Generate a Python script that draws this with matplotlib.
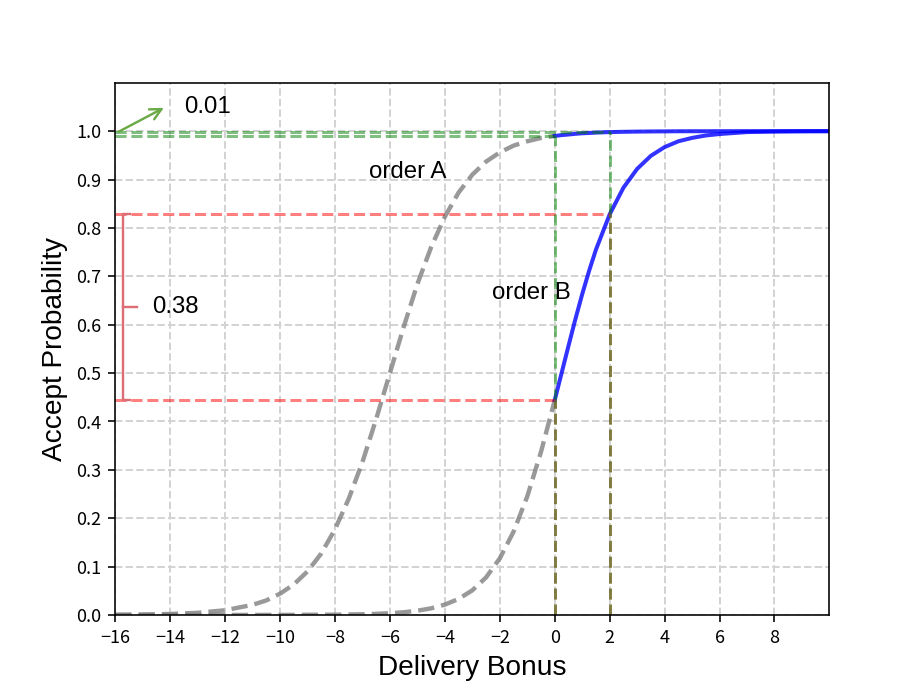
import matplotlib.pyplot as plt
import numpy as np

plt.rcParams['font.family'] = ['Liberation Sans', 'DejaVu Sans']

# bonus values where the curves were read
x_left = [-16, -15, -14, -13, -12, -11, -10.5, -10, -9.5, -9, -8.5, -8, -7.5, -7, -6.5, -6,
          -5.5, -5, -4.5, -4, -3.5, -3, -2.5, -2, -1.5, -1, -0.5, 0]
x_right = [0, 0.25, 0.5, 0.75, 1, 1.25, 1.5, 2, 2.5, 3, 3.5, 4, 4.5, 5, 5.5, 6, 7, 8, 9, 10]

# order A (gray for bonus <= 0, blue for bonus >= 0)
a_left = [0.0005, 0.001, 0.002, 0.0045, 0.0097, 0.021, 0.030, 0.044, 0.063, 0.090, 0.127, 0.177,
          0.240, 0.316, 0.405, 0.5, 0.595, 0.684, 0.760, 0.823, 0.873, 0.910, 0.937, 0.956,
          0.970, 0.979, 0.986, 0.990]
a_right = [0.990, 0.9918, 0.993, 0.9944, 0.9955, 0.9962, 0.997, 0.998, 0.9986, 0.999, 0.9993,
           0.9995, 0.9997, 0.9998, 0.9998, 0.9999, 1.0, 1.0, 1.0, 1.0]

# order B
b_left = [0.0, 0.0, 0.0, 0.0, 0.0001, 0.0001, 0.0001, 0.0001, 0.0002, 0.0004, 0.0005, 0.0006,
          0.0010, 0.0015, 0.0023, 0.0036, 0.0056, 0.0088, 0.0137, 0.0214, 0.0331, 0.0509,
          0.0776, 0.117, 0.172, 0.245, 0.337, 0.444]
b_right = [0.444, 0.500, 0.556, 0.611, 0.663, 0.711, 0.755, 0.828, 0.883, 0.922, 0.949, 0.967,
           0.979, 0.986, 0.991, 0.994, 0.998, 0.999, 0.9996, 0.9998]

bonus_marks = [0, 2]
p_low, p_high = 0.444, 0.828      # order B at bonus 0 and 2
p_a0, p_a2 = 0.990, 0.998         # order A at bonus 0 and 2

fig, ax = plt.subplots(figsize=(6.4, 4.8), dpi=144)

ax.plot(x_left, a_left, '--', color='gray', alpha=0.8, lw=2.2)
ax.plot(x_left, b_left, '--', color='gray', alpha=0.8, lw=2.2)
ax.plot(x_right, a_right, color='blue', alpha=0.8, lw=2)
ax.plot(x_right, b_right, color='blue', alpha=0.8, lw=2)

# guide lines
ax.hlines([p_a0], -16, bonus_marks[0], colors='green', linestyles='--', alpha=0.5, lw=1.5)
ax.hlines([p_a2], -16, bonus_marks[1], colors='green', linestyles='--', alpha=0.5, lw=1.5)
ax.hlines([p_low], -16, bonus_marks[0], colors='red', linestyles='--', alpha=0.5, lw=1.5)
ax.hlines([p_high], -16, bonus_marks[1], colors='red', linestyles='--', alpha=0.5, lw=1.5)
ax.vlines(bonus_marks[0], p_low, p_a0, colors='green', linestyles='--', alpha=0.5, lw=1.5)
ax.vlines(bonus_marks[1], p_high, p_a2, colors='green', linestyles='--', alpha=0.5, lw=1.5)
ax.vlines(bonus_marks[0], 0, p_low, colors='#6e6a28', linestyles='--', alpha=0.85, lw=1.5)
ax.vlines(bonus_marks[1], 0, p_high, colors='#6e6a28', linestyles='--', alpha=0.85, lw=1.5)

# bracket for the 0.38 gap
bx = -15.7
mid = (p_low + p_high) / 2
ax.plot([bx + 0.25, bx, bx, bx + 0.25], [p_low, p_low, p_high, p_high], color='#dd6e78', lw=1.2)
ax.plot([bx, bx + 0.5], [mid, mid], color='#dd6e78', lw=1.2)
ax.text(-14.65, mid, '%.2f' % (p_high - p_low), fontsize=12, va='center')

# arrow for the 0.01 gap
ax.annotate('', xy=(-14.1, 1.052), xytext=(-16, 0.995),
            arrowprops=dict(arrowstyle='->', color='#6aaa46', lw=1.2, mutation_scale=14))
ax.text(-13.5, 1.05, '%.2f' % round(p_a2 - p_a0, 2), fontsize=12, va='center')

ax.text(-6.76, 0.915, 'order A', fontsize=12, va='center')
ax.text(-2.29, 0.665, 'order B', fontsize=12, va='center')

ax.set_xlim(-16, 10)
ax.set_ylim(0, 1.1)
ax.set_xticks(np.arange(-16, 9, 2))
ax.set_yticks(np.arange(0, 1.01, 0.1))
for lab in ax.get_xticklabels() + ax.get_yticklabels():
    lab.set_fontfamily(['Noto Sans CJK JP', 'DejaVu Sans'])
    lab.set_fontsize(9)
ax.set_xlabel('Delivery Bonus', fontsize=14)
ax.set_ylabel('Accept Probability', fontsize=14)
ax.grid(True, linestyle='--', color='lightgray', lw=1)

plt.savefig('out.png', dpi=144)
